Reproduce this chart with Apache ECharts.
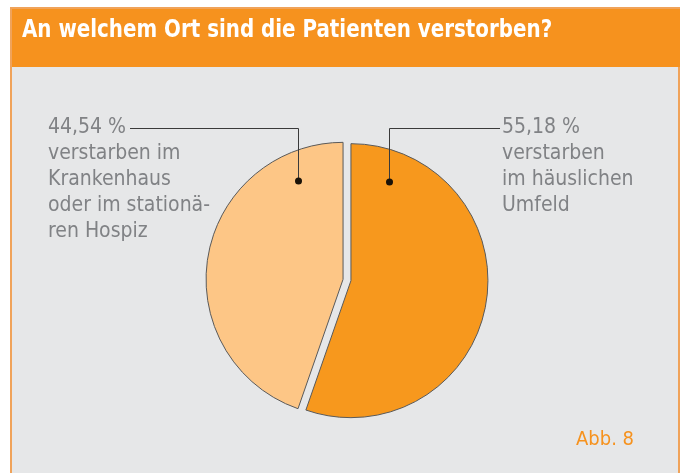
<!DOCTYPE html>
<html>
<head>
<meta charset="utf-8">
<script src="https://cdn.jsdelivr.net/npm/echarts@6/dist/echarts.min.js"></script>
<style>
  html, body { margin: 0; padding: 0; background: #ffffff; }
  #chart { width: 683px; height: 473px; }
</style>
</head>
<body>
<div id="chart"></div>
<script>
// data
const places = ['verstarben im häuslichen Umfeld', 'verstarben im Krankenhaus oder im stationären Hospiz'];
const shares = [55.18, 44.54];
const shareLabels = ['55,18 %', '44,54 %'];
const leftLines = ['verstarben im', 'Krankenhaus', 'oder im stationä-', 'ren Hospiz'];
const rightLines = ['verstarben', 'im häuslichen', 'Umfeld'];

const ORANGE = '#f6921e';
const LIGHT = '#fdc686';
const GRAY_TEXT = '#808285';
const FONT = '"Liberation Sans Narrow", "DejaVu Sans Condensed", sans-serif';

const chart = echarts.init(document.getElementById('chart'), null, {renderer: 'canvas'});

const labelText = (head, lines) => [head].concat(lines).join('\n');

const option = {
  backgroundColor: '#ffffff',
  animation: false,
  graphic: [
    {
      type: 'rect', z: -10,
      shape: {x: 11, y: 8, width: 668, height: 480},
      style: {fill: '#e6e7e8', stroke: '#f0a35a', lineWidth: 2}
    },
    {
      type: 'rect', z: -9,
      shape: {x: 12, y: 9, width: 668, height: 58},
      style: {fill: ORANGE}
    },
    // title, squeezed a little to match the condensed face of the original
    {
      type: 'text', z: 20, x: 22, y: 19, scaleX: 0.92,
      style: {
        text: 'An welchem Ort sind die Patienten verstorben?',
        fill: '#ffffff', font: 'bold 24px ' + FONT
      }
    },
    // leader lines
    {
      type: 'polyline', z: 20,
      shape: {points: [[130, 128.5], [298.5, 128.5], [298.5, 181]]},
      style: {stroke: '#3a3a3a', lineWidth: 1, fill: null}
    },
    {
      type: 'polyline', z: 20,
      shape: {points: [[389.5, 182], [389.5, 128.5], [500, 128.5]]},
      style: {stroke: '#3a3a3a', lineWidth: 1, fill: null}
    },
    {type: 'circle', z: 21, shape: {cx: 298.5, cy: 181, r: 3.5}, style: {fill: '#1a1208'}},
    {type: 'circle', z: 21, shape: {cx: 389.5, cy: 182, r: 3.5}, style: {fill: '#1a1208'}},
    {
      type: 'text', z: 20, left: 48, top: 115,
      style: {
        text: labelText(shareLabels[1], leftLines),
        fill: GRAY_TEXT, font: '21px ' + FONT, lineHeight: 26
      }
    },
    {
      type: 'text', z: 20, left: 502, top: 115,
      style: {
        text: labelText(shareLabels[0], rightLines),
        fill: GRAY_TEXT, font: '21px ' + FONT, lineHeight: 26
      }
    },
    {
      type: 'text', z: 20, left: 576, top: 430,
      style: {text: 'Abb. 8', fill: ORANGE, font: '20px ' + FONT}
    }
  ],
  series: [
    {
      type: 'pie',
      center: [347, 280],
      radius: 137,
      startAngle: 90,
      clockwise: true,
      selectedMode: 'multiple',
      selectedOffset: 4,
      label: {show: false},
      labelLine: {show: false},
      emphasis: {disabled: true},
      itemStyle: {borderColor: '#5a5a5a', borderWidth: 1},
      data: places.map((name, i) => ({
        name: name,
        value: shares[i],
        selected: true,
        itemStyle: {color: i === 0 ? '#f7981d' : LIGHT}
      }))
    }
  ]
};

chart.setOption(option);
window.addEventListener('resize', () => {
  chart.resize();
});
</script>
</body>
</html>
